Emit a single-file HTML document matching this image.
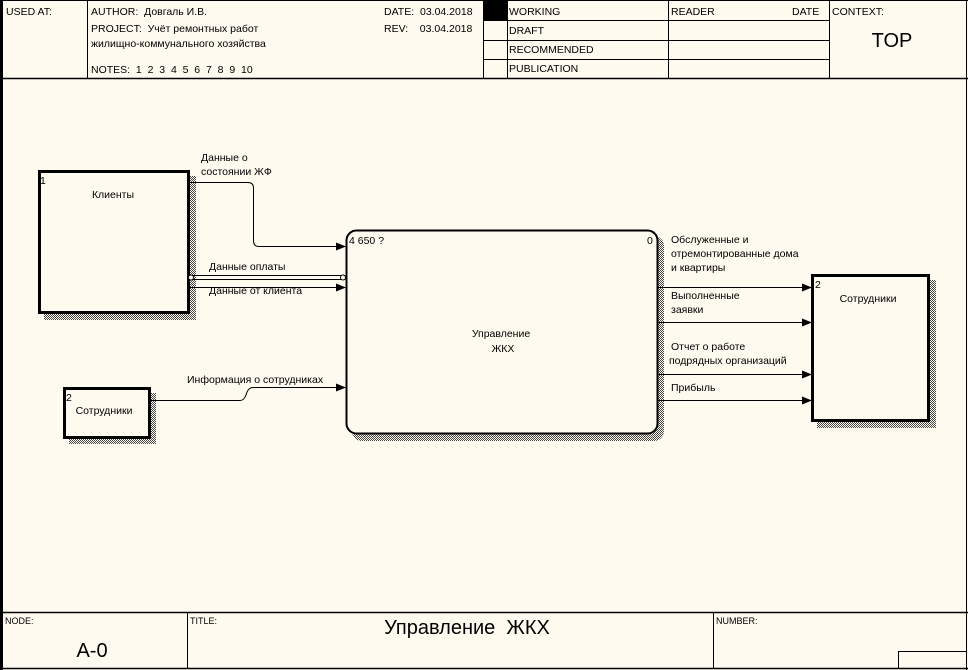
<!DOCTYPE html>
<html><head><meta charset="utf-8"><style>
html,body{margin:0;padding:0;background:#fffaef;}
svg{display:block;}
text{font-family:"Liberation Sans","DejaVu Sans",sans-serif;fill:#000;white-space:pre;}
</style></head><body>
<svg width="968" height="670" viewBox="0 0 968 670" xmlns="http://www.w3.org/2000/svg" xml:space="preserve">
<defs>
<pattern id="h" width="2" height="2" patternUnits="userSpaceOnUse">
<rect width="2" height="2" fill="#fffaef"/><rect width="1" height="1" fill="#444"/><rect x="1" y="1" width="1" height="1" fill="#444"/>
</pattern>
<marker id="a" markerWidth="10" markerHeight="8" refX="9" refY="4" orient="auto" markerUnits="userSpaceOnUse">
<path d="M0,0 L10,4 L0,8 z" fill="#000"/>
</marker>
</defs>
<rect width="968" height="670" fill="#fffaef"/>
<line x1="1.5" y1="0" x2="1.5" y2="670" stroke="#000" stroke-width="3"/>
<line x1="966.5" y1="0" x2="966.5" y2="670" stroke="#000" stroke-width="1"/>
<line x1="0" y1="0.5" x2="968" y2="0.5" stroke="#000"/>
<line x1="0" y1="78.5" x2="968" y2="78.5" stroke="#000" stroke-width="1.5"/>
<line x1="0" y1="612.5" x2="968" y2="612.5" stroke="#000" stroke-width="1.5"/>
<line x1="0" y1="668.5" x2="968" y2="668.5" stroke="#000" stroke-width="1.5"/>
<g stroke="#000" stroke-width="1">
<line x1="87.5" y1="0" x2="87.5" y2="78"/>
<line x1="483.5" y1="0" x2="483.5" y2="78"/>
<line x1="507.5" y1="0" x2="507.5" y2="78"/>
<line x1="668.5" y1="0" x2="668.5" y2="78"/>
<line x1="829.5" y1="0" x2="829.5" y2="78"/>
<line x1="483" y1="20.5" x2="829" y2="20.5"/>
<line x1="483" y1="40.5" x2="829" y2="40.5"/>
<line x1="483" y1="59.5" x2="829" y2="59.5"/>
</g>
<rect x="484" y="1" width="23" height="19" fill="#000"/>
<g font-size="10.5">
<text x="6" y="15">USED AT:</text>
<text x="91" y="15">AUTHOR:  Довгаль И.В.</text>
<text x="91" y="32">PROJECT:  Учёт ремонтных работ</text>
<text x="91" y="47">жилищно-коммунального хозяйства</text>
<text x="91" y="73">NOTES:  1  2  3  4  5  6  7  8  9  10</text>
<text x="384" y="15">DATE:  03.04.2018</text>
<text x="384" y="32">REV:    03.04.2018</text>
<text x="509" y="15">WORKING</text>
<text x="509" y="34">DRAFT</text>
<text x="509" y="53">RECOMMENDED</text>
<text x="509" y="72">PUBLICATION</text>
<text x="671" y="15">READER</text>
<text x="792" y="15">DATE</text>
<text x="832" y="15">CONTEXT:</text>
</g>
<text x="892" y="47" font-size="20" text-anchor="middle">TOP</text>
<g stroke="#000">
<line x1="187.5" y1="612" x2="187.5" y2="668"/>
<line x1="713.5" y1="612" x2="713.5" y2="668"/>
<polyline points="898.5,668 898.5,651.5 967,651.5" fill="none"/>
</g>
<g font-size="9">
<text x="5" y="624">NODE:</text>
<text x="190" y="624">TITLE:</text>
<text x="716" y="624">NUMBER:</text>
</g>
<text x="92" y="657" font-size="20" text-anchor="middle">A-0</text>
<text x="467" y="634" font-size="20" text-anchor="middle">Управление  ЖКХ</text>
<rect x="44" y="176" width="152" height="144" fill="url(#h)"/>
<rect x="69" y="393" width="87" height="51" fill="url(#h)"/>
<rect x="352" y="236" width="312" height="205" rx="10" fill="url(#h)"/>
<rect x="817" y="280" width="119" height="148" fill="url(#h)"/>
<rect x="39.5" y="171.5" width="149" height="141" fill="#fffaef" stroke="#000" stroke-width="3"/>
<rect x="64.5" y="388.5" width="85" height="49" fill="#fffaef" stroke="#000" stroke-width="3"/>
<rect x="346.5" y="230.5" width="311" height="203" rx="10" fill="#fffaef" stroke="#000" stroke-width="2"/>
<rect x="812.5" y="275.5" width="116" height="145" fill="#fffaef" stroke="#000" stroke-width="3"/>
<g font-size="10.5">
<text x="40" y="184">1</text>
<text x="113" y="198" text-anchor="middle">Клиенты</text>
<text x="66" y="401">2</text>
<text x="104" y="414" text-anchor="middle">Сотрудники</text>
<text x="349" y="244">4 650 ?</text>
<text x="647" y="244">0</text>
<text x="501" y="337" text-anchor="middle">Управление</text>
<text x="503" y="352" text-anchor="middle">ЖКХ</text>
<text x="815" y="288">2</text>
<text x="868" y="302" text-anchor="middle">Сотрудники</text>
</g>
<g stroke="#000" stroke-width="1" fill="none">
<path d="M189,182.5 H248 Q253.5,182.5 253.5,188 V241 Q253.5,246.5 259,246.5 H345" marker-end="url(#a)"/>
<line x1="189" y1="275.5" x2="345" y2="275.5"/>
<line x1="189" y1="279.5" x2="345" y2="279.5"/>
<line x1="189" y1="287.5" x2="345" y2="287.5" marker-end="url(#a)"/>
<path d="M150,400.5 H240 Q244,400.5 246,395 Q248,387.5 253,387.5 H345" marker-end="url(#a)"/>
<line x1="658" y1="287.5" x2="811" y2="287.5" marker-end="url(#a)"/>
<line x1="658" y1="322.5" x2="811" y2="322.5" marker-end="url(#a)"/>
<line x1="658" y1="374.5" x2="811" y2="374.5" marker-end="url(#a)"/>
<line x1="658" y1="400.5" x2="811" y2="400.5" marker-end="url(#a)"/>
</g>
<circle cx="191" cy="277.5" r="2.5" fill="#fffaef" stroke="#000"/>
<circle cx="343" cy="277.5" r="2.5" fill="#fffaef" stroke="#000"/>
<g font-size="10.5">
<text x="201" y="161">Данные о</text>
<text x="201" y="175">состоянии ЖФ</text>
<text x="209" y="270">Данные оплаты</text>
<text x="209" y="294">Данные от клиента</text>
<text x="187" y="383">Информация о сотрудниках</text>
<text x="671" y="243">Обслуженные и</text>
<text x="671" y="257">отремонтированные дома</text>
<text x="671" y="271">и квартиры</text>
<text x="671" y="299">Выполненные</text>
<text x="671" y="313">заявки</text>
<text x="671" y="350">Отчет о работе</text>
<text x="669" y="364">подрядных организаций</text>
<text x="671" y="391">Прибыль</text>
</g>
</svg>
</body></html>
